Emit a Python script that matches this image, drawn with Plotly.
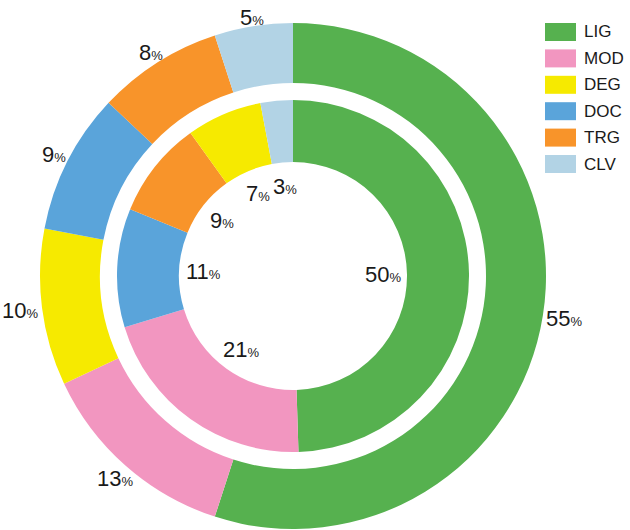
import math
import plotly.graph_objects as go

# ---- data ----
categories = ["LIG", "MOD", "DEG", "DOC", "TRG", "CLV"]
colors = {"LIG": "#56b14f", "MOD": "#f296c0", "DEG": "#f6ea00",
          "DOC": "#5aa4da", "TRG": "#f8942a", "CLV": "#b2d3e5"}

outer_labels = ["LIG", "MOD", "DEG", "DOC", "TRG", "CLV"]
outer_values = [55, 13, 10, 9, 8, 5]

inner_labels = ["LIG", "MOD", "DOC", "TRG", "DEG", "CLV"]
inner_values = [50, 21, 11, 9, 7, 3]

W, H = 630, 530
CX, CY = 293, 254          # centre in px (y from bottom)
R_OUT, R_OUT_HOLE = 253, 193
R_IN, R_IN_HOLE = 176, 114

def dom(r):
    return dict(x=[(CX - r) / W, (CX + r) / W], y=[(CY - r) / H, (CY + r) / H])

fig = go.Figure()
fig.add_trace(go.Pie(labels=outer_labels, values=outer_values,
                     marker=dict(colors=[colors[c] for c in outer_labels], line=dict(width=0)),
                     hole=R_OUT_HOLE / R_OUT, sort=False, direction="clockwise", rotation=0,
                     textinfo="none", domain=dom(R_OUT), showlegend=False, hoverinfo="label+value"))
fig.add_trace(go.Pie(labels=inner_labels, values=inner_values,
                     marker=dict(colors=[colors[c] for c in inner_labels], line=dict(width=0)),
                     hole=R_IN_HOLE / R_IN, sort=False, direction="clockwise", rotation=0,
                     textinfo="none", domain=dom(R_IN), showlegend=False, hoverinfo="label+value"))

FONT = "Liberation Sans, Arial, sans-serif"

def add_labels(values, r, widen=False):
    total = sum(values)
    cum = 0
    for v in values:
        a = (cum + v / 2) / total * 2 * math.pi
        cum += v
        rr = r
        if widen:  # push wider labels out so they clear the ring
            tw = 12 * len(str(v)) + 9
            rr = r + 0.45 * tw * abs(math.sin(a))
        x = CX + rr * math.sin(a)
        y = CY + rr * math.cos(a)
        fig.add_annotation(x=x / W, y=y / H, xref="paper", yref="paper",
                           text=f"{v}<span style='font-size:13px'>%</span>",
                           showarrow=False, xanchor="center", yanchor="middle",
                           font=dict(family=FONT, size=22, color="#1a1a1a"))

add_labels(outer_values, 260, widen=True)
add_labels(inner_values, 90)

# ---- legend ----
top = 530 - 23
step = 26.4
for i, c in enumerate(categories):
    y0 = top - i * step
    fig.add_shape(type="rect", xref="paper", yref="paper",
                  x0=545 / W, x1=576 / W, y0=(y0 - 18) / H, y1=y0 / H,
                  fillcolor=colors[c], line=dict(width=0))
    fig.add_annotation(x=582 / W, y=(y0 - 9) / H, xref="paper", yref="paper",
                       text=c, showarrow=False, xanchor="left", yanchor="middle",
                       font=dict(family=FONT, size=17, color="#1a1a1a"))

fig.update_layout(width=W, height=H, margin=dict(l=0, r=0, t=0, b=0),
                  paper_bgcolor="white", plot_bgcolor="white", showlegend=False)
fig.write_html("out.html", config={"displayModeBar": False},
               post_script="document.body.style.margin='0';document.body.style.overflow='hidden';")
